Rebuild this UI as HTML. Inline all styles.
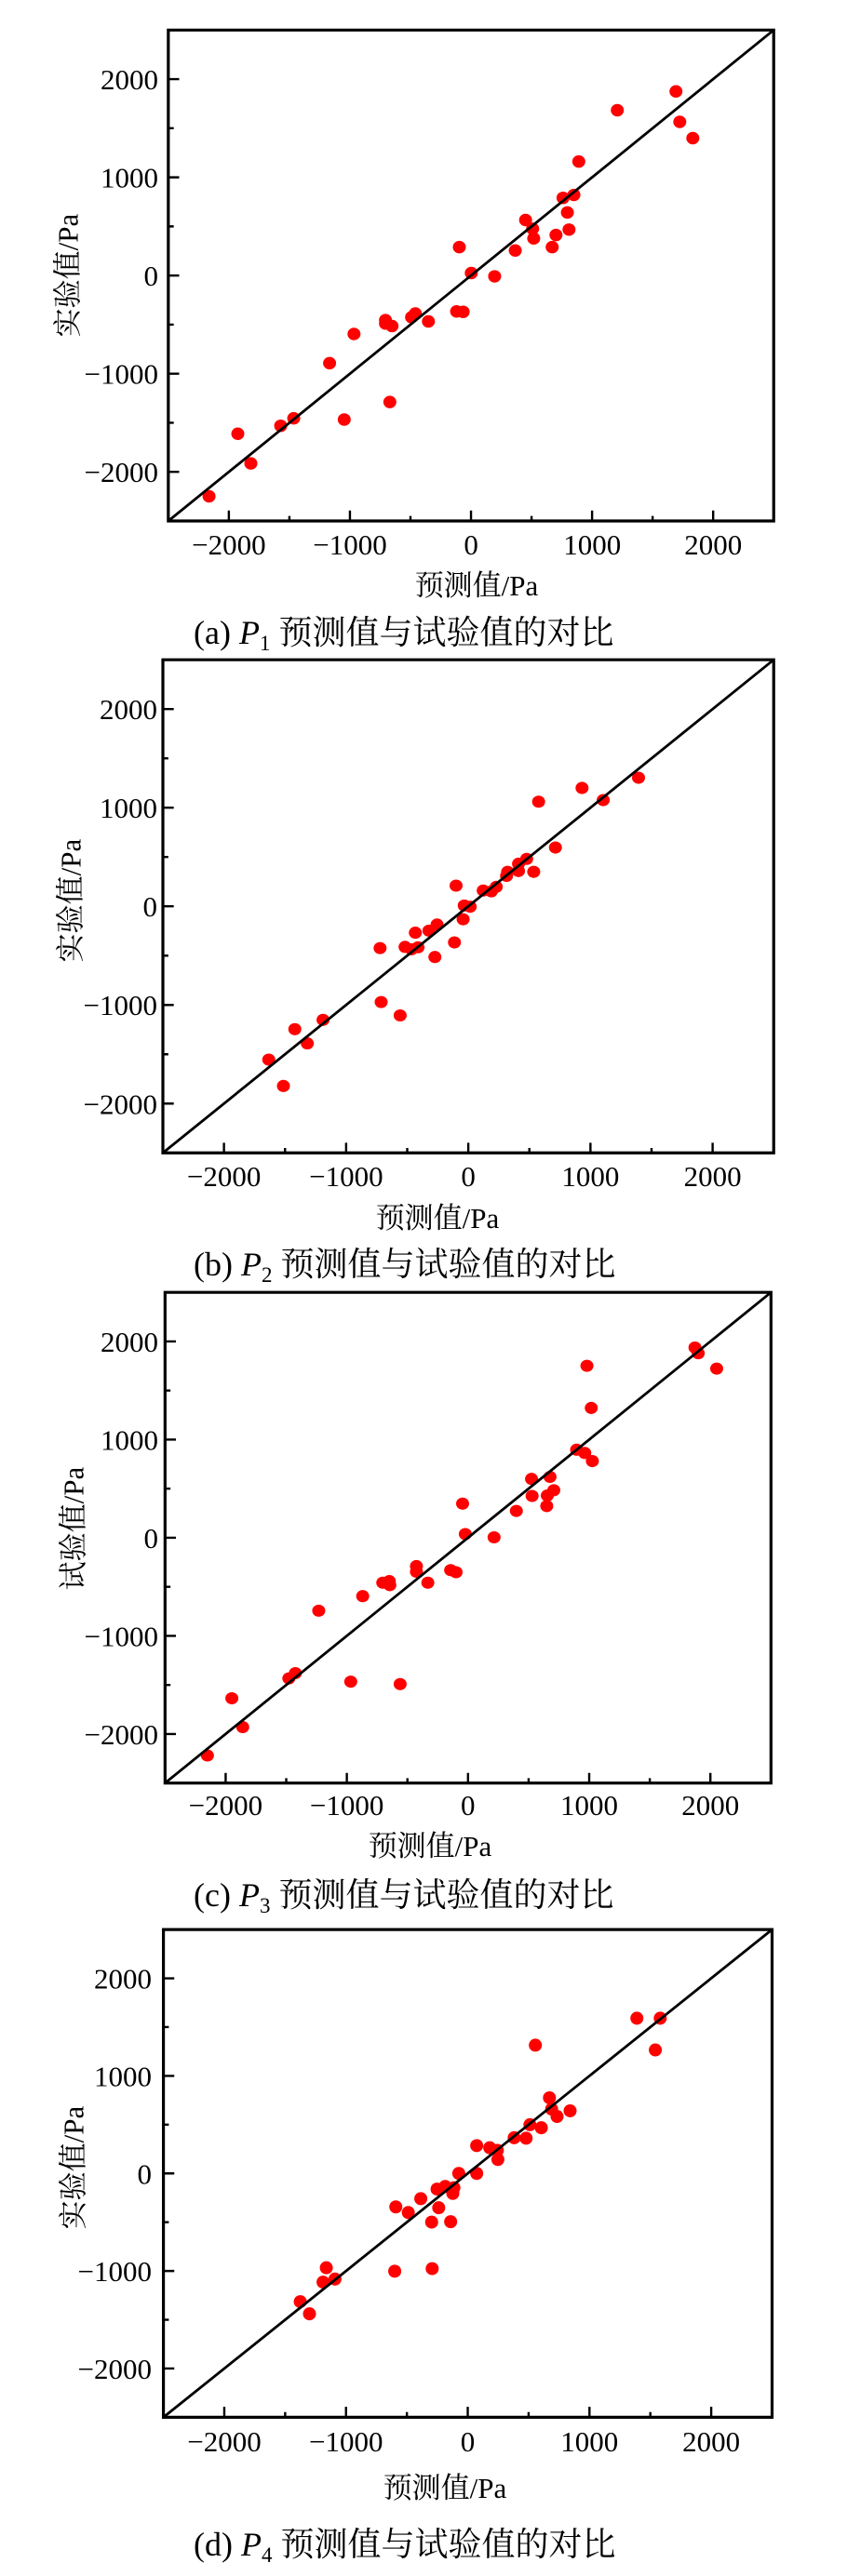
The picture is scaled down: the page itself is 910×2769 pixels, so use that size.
<!DOCTYPE html>
<html><head><meta charset="utf-8"><style>
html,body{margin:0;padding:0;background:#fff;}
svg{display:block;}
.t{font-family:"Liberation Serif","Noto Serif CJK SC",serif;font-size:31px;fill:#000;}
.ti{font-family:"Liberation Serif","Noto Serif CJK SC",serif;font-size:31px;fill:#000;}
.cap{font-family:"Liberation Serif","Noto Serif CJK SC",serif;font-size:36px;fill:#000;}
</style></head><body>
<svg width="910" height="2769" viewBox="0 0 910 2769" xmlns="http://www.w3.org/2000/svg">
<rect width="910" height="2769" fill="#fff"/>

<!-- Panel a -->
<g transform="translate(0,0) scale(0.58333,0.44872)">
<g fill="#f00">
<ellipse cx="1245" cy="219" rx="12" ry="15"/><ellipse cx="1137" cy="264" rx="12" ry="15"/><ellipse cx="1252" cy="292" rx="12" ry="15"/><ellipse cx="1276" cy="331" rx="12" ry="15"/><ellipse cx="1066" cy="387" rx="12" ry="15"/><ellipse cx="1037" cy="474" rx="12" ry="15"/><ellipse cx="1057" cy="467" rx="12" ry="15"/><ellipse cx="1045" cy="509" rx="12" ry="15"/><ellipse cx="968" cy="527" rx="12" ry="15"/><ellipse cx="981" cy="548" rx="12" ry="15"/><ellipse cx="983" cy="571" rx="12" ry="15"/><ellipse cx="1024" cy="563" rx="12" ry="15"/><ellipse cx="1048" cy="550" rx="12" ry="15"/><ellipse cx="1017" cy="592" rx="12" ry="15"/><ellipse cx="949" cy="600" rx="12" ry="15"/><ellipse cx="846" cy="592" rx="12" ry="15"/><ellipse cx="868" cy="654" rx="12" ry="15"/><ellipse cx="911" cy="662" rx="12" ry="15"/><ellipse cx="841" cy="746" rx="12" ry="15"/><ellipse cx="853" cy="747" rx="12" ry="15"/><ellipse cx="710" cy="767" rx="12" ry="15"/><ellipse cx="710" cy="775" rx="12" ry="15"/><ellipse cx="722" cy="781" rx="12" ry="15"/><ellipse cx="758" cy="760" rx="12" ry="15"/><ellipse cx="765" cy="751" rx="12" ry="15"/><ellipse cx="789" cy="770" rx="12" ry="15"/><ellipse cx="652" cy="800" rx="12" ry="15"/><ellipse cx="607" cy="870" rx="12" ry="15"/><ellipse cx="718" cy="963" rx="12" ry="15"/><ellipse cx="634" cy="1005" rx="12" ry="15"/><ellipse cx="541" cy="1002" rx="12" ry="15"/><ellipse cx="517" cy="1020" rx="12" ry="15"/><ellipse cx="438" cy="1039" rx="12" ry="15"/><ellipse cx="462" cy="1110" rx="12" ry="15"/><ellipse cx="385" cy="1189" rx="12" ry="15"/>
</g>
<line x1="310" y1="1248" x2="1425" y2="72" stroke="#000" stroke-width="2.8" vector-effect="non-scaling-stroke"/>
<path d="M421.5 1248v-25M533 1248v-12M644.5 1248v-25M756 1248v-12M867.5 1248v-25M979 1248v-12M1090.5 1248v-25M1202 1248v-12M1313.5 1248v-25
M310 189.6h20M310 307.2h10M310 424.8h20M310 542.4h10M310 660h20M310 777.6h10M310 895.2h20M310 1012.8h10M310 1130.4h20" stroke="#000" stroke-width="2.4" vector-effect="non-scaling-stroke" fill="none"/>
<rect x="310" y="72" width="1115" height="1176" fill="none" stroke="#000" stroke-width="3.2" vector-effect="non-scaling-stroke"/>
</g>
<g class="t">
<text x="170" y="96" text-anchor="end">2000</text>
<text x="170" y="201.6" text-anchor="end">1000</text>
<text x="170" y="307.2" text-anchor="end">0</text>
<text x="170" y="412.7" text-anchor="end">−1000</text>
<text x="170" y="518.2" text-anchor="end">−2000</text>
<text x="245.9" y="596" text-anchor="middle">−2000</text>
<text x="376" y="596" text-anchor="middle">−1000</text>
<text x="506.1" y="596" text-anchor="middle">0</text>
<text x="636.2" y="596" text-anchor="middle">1000</text>
<text x="766.3" y="596" text-anchor="middle">2000</text>
</g>
<text class="ti" x="512" y="640" text-anchor="middle">预测值/Pa</text>
<text class="ti" transform="translate(73,296) rotate(-90)" text-anchor="middle" dominant-baseline="central">实验值/Pa</text>
<text class="cap" x="208" y="692">(a) <tspan font-style="italic">P</tspan><tspan font-size="23" dy="7">1</tspan><tspan dy="-7"> 预测值与试验值的对比</tspan></text>

<!-- Panel b -->
<g transform="translate(0,680) scale(0.58333,0.43590)">
<g fill="#f00">
<ellipse cx="1176" cy="358" rx="12" ry="15"/><ellipse cx="1072" cy="383" rx="12" ry="15"/><ellipse cx="1111" cy="413" rx="12" ry="15"/><ellipse cx="992" cy="417" rx="12" ry="15"/><ellipse cx="1023" cy="530" rx="12" ry="15"/><ellipse cx="970" cy="558" rx="12" ry="15"/><ellipse cx="955" cy="570" rx="12" ry="15"/><ellipse cx="955" cy="588" rx="12" ry="15"/><ellipse cx="983" cy="590" rx="12" ry="15"/><ellipse cx="935" cy="590" rx="12" ry="15"/><ellipse cx="933" cy="600" rx="12" ry="15"/><ellipse cx="914" cy="627" rx="12" ry="15"/><ellipse cx="905" cy="638" rx="12" ry="15"/><ellipse cx="890" cy="636" rx="12" ry="15"/><ellipse cx="840" cy="624" rx="12" ry="15"/><ellipse cx="855" cy="673" rx="12" ry="15"/><ellipse cx="866" cy="676" rx="12" ry="15"/><ellipse cx="853" cy="707" rx="12" ry="15"/><ellipse cx="837" cy="764" rx="12" ry="15"/><ellipse cx="805" cy="720" rx="12" ry="15"/><ellipse cx="790" cy="735" rx="12" ry="15"/><ellipse cx="765" cy="740" rx="12" ry="15"/><ellipse cx="801" cy="800" rx="12" ry="15"/><ellipse cx="770" cy="776" rx="12" ry="15"/><ellipse cx="746" cy="775" rx="12" ry="15"/><ellipse cx="758" cy="781" rx="12" ry="15"/><ellipse cx="700" cy="778" rx="12" ry="15"/><ellipse cx="702" cy="911" rx="12" ry="15"/><ellipse cx="737" cy="944" rx="12" ry="15"/><ellipse cx="595" cy="955" rx="12" ry="15"/><ellipse cx="543" cy="978" rx="12" ry="15"/><ellipse cx="566" cy="1013" rx="12" ry="15"/><ellipse cx="495" cy="1053" rx="12" ry="15"/><ellipse cx="522" cy="1118" rx="12" ry="15"/>
</g>
<line x1="300" y1="1283" x2="1425" y2="67" stroke="#000" stroke-width="2.8" vector-effect="non-scaling-stroke"/>
<path d="M412.5 1283v-25M525 1283v-12M637.5 1283v-25M750 1283v-12M862.5 1283v-25M975 1283v-12M1087.5 1283v-25M1200 1283v-12M1312.5 1283v-25
M300 188.6h20M300 310.2h10M300 431.8h20M300 553.4h10M300 675h20M300 796.6h10M300 918.2h20M300 1039.8h10M300 1161.4h20" stroke="#000" stroke-width="2.4" vector-effect="non-scaling-stroke" fill="none"/>
<rect x="300" y="67" width="1125" height="1216" fill="none" stroke="#000" stroke-width="3.2" vector-effect="non-scaling-stroke"/>
</g>
<g class="t">
<text x="169" y="773.2" text-anchor="end">2000</text>
<text x="169" y="879.2" text-anchor="end">1000</text>
<text x="169" y="985.2" text-anchor="end">0</text>
<text x="169" y="1091.2" text-anchor="end">−1000</text>
<text x="169" y="1197.3" text-anchor="end">−2000</text>
<text x="240.6" y="1275" text-anchor="middle">−2000</text>
<text x="371.9" y="1275" text-anchor="middle">−1000</text>
<text x="503.1" y="1275" text-anchor="middle">0</text>
<text x="634.4" y="1275" text-anchor="middle">1000</text>
<text x="765.6" y="1275" text-anchor="middle">2000</text>
</g>
<text class="ti" x="470" y="1320" text-anchor="middle">预测值/Pa</text>
<text class="ti" transform="translate(76,968) rotate(-90)" text-anchor="middle" dominant-baseline="central">实验值/Pa</text>
<text class="cap" x="208" y="1371">(b) <tspan font-style="italic">P</tspan><tspan font-size="23" dy="7">2</tspan><tspan dy="-7"> 预测值与试验值的对比</tspan></text>

<!-- Panel c -->
<g transform="translate(0,1360) scale(0.58333,0.43590)">
<g fill="#f00">
<ellipse cx="1280" cy="203" rx="12" ry="15"/><ellipse cx="1286" cy="217" rx="12" ry="15"/><ellipse cx="1320" cy="255" rx="12" ry="15"/><ellipse cx="1081" cy="248" rx="12" ry="15"/><ellipse cx="1089" cy="352" rx="12" ry="15"/><ellipse cx="1062" cy="455" rx="12" ry="15"/><ellipse cx="1077" cy="463" rx="12" ry="15"/><ellipse cx="1091" cy="483" rx="12" ry="15"/><ellipse cx="979" cy="527" rx="12" ry="15"/><ellipse cx="1013" cy="522" rx="12" ry="15"/><ellipse cx="980" cy="569" rx="12" ry="15"/><ellipse cx="1008" cy="568" rx="12" ry="15"/><ellipse cx="1020" cy="555" rx="12" ry="15"/><ellipse cx="1007" cy="594" rx="12" ry="15"/><ellipse cx="852" cy="588" rx="12" ry="15"/><ellipse cx="951" cy="606" rx="12" ry="15"/><ellipse cx="857" cy="663" rx="12" ry="15"/><ellipse cx="910" cy="671" rx="12" ry="15"/><ellipse cx="767" cy="742" rx="12" ry="15"/><ellipse cx="767" cy="756" rx="12" ry="15"/><ellipse cx="830" cy="752" rx="12" ry="15"/><ellipse cx="840" cy="757" rx="12" ry="15"/><ellipse cx="788" cy="783" rx="12" ry="15"/><ellipse cx="717" cy="779" rx="12" ry="15"/><ellipse cx="705" cy="783" rx="12" ry="15"/><ellipse cx="718" cy="789" rx="12" ry="15"/><ellipse cx="668" cy="816" rx="12" ry="15"/><ellipse cx="587" cy="852" rx="12" ry="15"/><ellipse cx="544" cy="1006" rx="12" ry="15"/><ellipse cx="532" cy="1019" rx="12" ry="15"/><ellipse cx="646" cy="1027" rx="12" ry="15"/><ellipse cx="737" cy="1033" rx="12" ry="15"/><ellipse cx="427" cy="1068" rx="12" ry="15"/><ellipse cx="447" cy="1139" rx="12" ry="15"/><ellipse cx="382" cy="1209" rx="12" ry="15"/>
</g>
<line x1="304" y1="1277" x2="1420" y2="67" stroke="#000" stroke-width="2.8" vector-effect="non-scaling-stroke"/>
<path d="M415.6 1277v-25M527.2 1277v-12M638.8 1277v-25M750.4 1277v-12M862 1277v-25M973.6 1277v-12M1085.2 1277v-25M1196.8 1277v-12M1308.4 1277v-25
M304 188h20M304 309h10M304 430h20M304 551h10M304 672h20M304 793h10M304 914h20M304 1035h10M304 1156h20" stroke="#000" stroke-width="2.4" vector-effect="non-scaling-stroke" fill="none"/>
<rect x="304" y="67" width="1116" height="1210" fill="none" stroke="#000" stroke-width="3.2" vector-effect="non-scaling-stroke"/>
</g>
<g class="t">
<text x="170" y="1452.9" text-anchor="end">2000</text>
<text x="170" y="1558.4" text-anchor="end">1000</text>
<text x="170" y="1663.9" text-anchor="end">0</text>
<text x="170" y="1769.4" text-anchor="end">−1000</text>
<text x="170" y="1874.9" text-anchor="end">−2000</text>
<text x="242.4" y="1951" text-anchor="middle">−2000</text>
<text x="372.6" y="1951" text-anchor="middle">−1000</text>
<text x="502.8" y="1951" text-anchor="middle">0</text>
<text x="633" y="1951" text-anchor="middle">1000</text>
<text x="763.2" y="1951" text-anchor="middle">2000</text>
</g>
<text class="ti" x="462" y="1995" text-anchor="middle">预测值/Pa</text>
<text class="ti" transform="translate(79,1643) rotate(-90)" text-anchor="middle" dominant-baseline="central">试验值/Pa</text>
<text class="cap" x="208" y="2049">(c) <tspan font-style="italic">P</tspan><tspan font-size="23" dy="7">3</tspan><tspan dy="-7"> 预测值与试验值的对比</tspan></text>

<!-- Panel d -->
<g transform="translate(0,2040) scale(0.58333,0.46728)">
<g fill="#f00">
<ellipse cx="1173" cy="277" rx="12" ry="15"/><ellipse cx="1216" cy="277" rx="12" ry="15"/><ellipse cx="1207" cy="350" rx="12" ry="15"/><ellipse cx="986" cy="339" rx="12" ry="15"/><ellipse cx="1012" cy="460" rx="12" ry="15"/><ellipse cx="1016" cy="486" rx="12" ry="15"/><ellipse cx="1026" cy="503" rx="12" ry="15"/><ellipse cx="1050" cy="490" rx="12" ry="15"/><ellipse cx="976" cy="522" rx="12" ry="15"/><ellipse cx="997" cy="529" rx="12" ry="15"/><ellipse cx="947" cy="552" rx="12" ry="15"/><ellipse cx="969" cy="553" rx="12" ry="15"/><ellipse cx="878" cy="570" rx="12" ry="15"/><ellipse cx="902" cy="575" rx="12" ry="15"/><ellipse cx="916" cy="581" rx="12" ry="15"/><ellipse cx="917" cy="602" rx="12" ry="15"/><ellipse cx="845" cy="634" rx="12" ry="15"/><ellipse cx="878" cy="634" rx="12" ry="15"/><ellipse cx="805" cy="670" rx="12" ry="15"/><ellipse cx="820" cy="664" rx="12" ry="15"/><ellipse cx="836" cy="667" rx="12" ry="15"/><ellipse cx="834" cy="680" rx="12" ry="15"/><ellipse cx="775" cy="692" rx="12" ry="15"/><ellipse cx="808" cy="713" rx="12" ry="15"/><ellipse cx="729" cy="711" rx="12" ry="15"/><ellipse cx="752" cy="724" rx="12" ry="15"/><ellipse cx="795" cy="746" rx="12" ry="15"/><ellipse cx="830" cy="745" rx="12" ry="15"/><ellipse cx="727" cy="859" rx="12" ry="15"/><ellipse cx="796" cy="853" rx="12" ry="15"/><ellipse cx="601" cy="851" rx="12" ry="15"/><ellipse cx="595" cy="884" rx="12" ry="15"/><ellipse cx="617" cy="877" rx="12" ry="15"/><ellipse cx="553" cy="929" rx="12" ry="15"/><ellipse cx="570" cy="957" rx="12" ry="15"/>
</g>
<line x1="301" y1="1195" x2="1422" y2="73" stroke="#000" stroke-width="2.8" vector-effect="non-scaling-stroke"/>
<path d="M413.1 1195v-24M525.2 1195v-12M637.3 1195v-24M749.4 1195v-12M861.5 1195v-24M973.6 1195v-12M1085.7 1195v-24M1197.8 1195v-12M1309.9 1195v-24
M301 185.2h20M301 297.4h10M301 409.6h20M301 521.8h10M301 634h20M301 746.2h10M301 858.4h20M301 970.6h10M301 1082.8h20" stroke="#000" stroke-width="2.4" vector-effect="non-scaling-stroke" fill="none"/>
<rect x="301" y="73" width="1121" height="1122" fill="none" stroke="#000" stroke-width="3.2" vector-effect="non-scaling-stroke"/>
</g>
<g class="t">
<text x="163" y="2137.5" text-anchor="end">2000</text>
<text x="163" y="2242.4" text-anchor="end">1000</text>
<text x="163" y="2347.3" text-anchor="end">0</text>
<text x="163" y="2452.1" text-anchor="end">−1000</text>
<text x="163" y="2557" text-anchor="end">−2000</text>
<text x="241" y="2635" text-anchor="middle">−2000</text>
<text x="371.8" y="2635" text-anchor="middle">−1000</text>
<text x="502.5" y="2635" text-anchor="middle">0</text>
<text x="633.3" y="2635" text-anchor="middle">1000</text>
<text x="764.1" y="2635" text-anchor="middle">2000</text>
</g>
<text class="ti" x="478" y="2685" text-anchor="middle">预测值/Pa</text>
<text class="ti" transform="translate(79,2330) rotate(-90)" text-anchor="middle" dominant-baseline="central">实验值/Pa</text>
<text class="cap" x="208" y="2747">(d) <tspan font-style="italic">P</tspan><tspan font-size="23" dy="7">4</tspan><tspan dy="-7"> 预测值与试验值的对比</tspan></text>
</svg>
</body></html>
